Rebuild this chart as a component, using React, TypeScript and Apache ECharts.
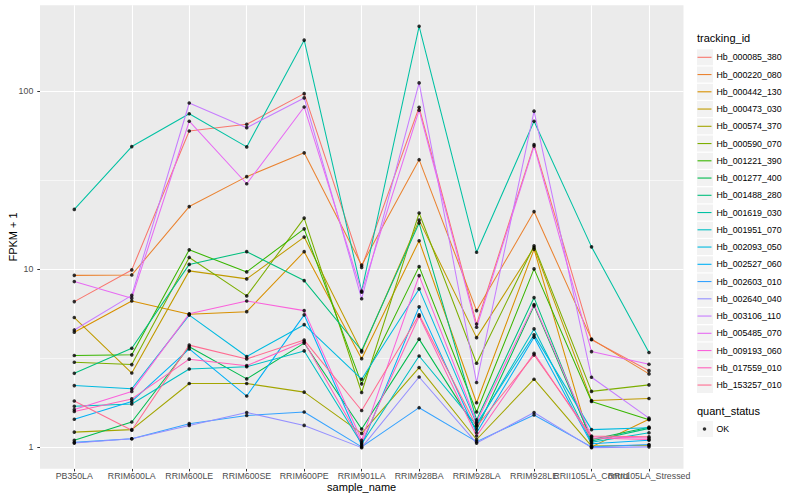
import React, { useEffect, useRef } from "react";
import * as echarts from "echarts";

// ---------- data ----------
const categories = [
  "PB350LA",
  "RRIM600LA",
  "RRIM600LE",
  "RRIM600SE",
  "RRIM600PE",
  "RRIM901LA",
  "RRIM928BA",
  "RRIM928LA",
  "RRIM928LE",
  "RRII105LA_Control",
  "RRII105LA_Stressed",
];

const yTickValues = [1, 10, 100];
const minorGridValues = [3.1623, 31.623];

const hb000085_380 = [6.55, 9.87, 59.6, 65.0, 96.6, 10.2, 81.0, 4.9, 50.0, 4.0, 2.68];
const hb000220_080 = [9.2, 9.25, 22.4, 33.0, 44.9, 10.5, 41.1, 5.83, 21.0, 4.03, 2.57];
const hb000442_130 = [4.41, 6.6, 5.56, 5.75, 12.5, 3.13, 14.4, 1.77, 12.9, 1.0, 1.43];
const hb000473_030 = [5.33, 2.6, 9.75, 8.79, 15.1, 3.42, 18.8, 4.11, 13.2, 1.82, 1.87];
const hb000574_370 = [1.21, 1.25, 2.27, 2.27, 2.03, 1.19, 2.79, 1.1, 2.4, 1.01, 1.02];
const hb000590_070 = [2.99, 2.9, 11.6, 7.05, 19.3, 2.02, 20.6, 2.95, 13.5, 2.05, 2.23];
const hb001221_390 = [3.26, 3.29, 12.8, 9.62, 16.8, 2.26, 10.3, 1.57, 10.0, 1.8, 1.42];
const hb001277_400 = [1.09, 1.38, 3.65, 2.41, 3.83, 1.26, 4.03, 1.25, 6.2, 1.1, 1.29];
const hb001488_280 = [2.59, 3.58, 10.6, 12.5, 8.6, 3.48, 18.1, 1.42, 6.9, 1.08, 1.27];
const hb001619_030 = [21.6, 48.7, 74.5, 48.5, 193, 7.5, 231, 12.4, 67.6, 13.3, 3.39];
const hb001951_070 = [1.69, 1.74, 2.74, 2.82, 3.46, 1.04, 3.24, 1.32, 4.6, 1.06, 1.2];
const hb002093_050 = [2.21, 2.12, 5.5, 3.22, 4.86, 2.4, 7.72, 1.35, 4.26, 1.25, 1.28];
const hb002527_060 = [1.43, 1.8, 3.55, 1.93, 5.52, 1.02, 6.12, 1.2, 4.13, 1.04, 1.09];
const hb002603_010 = [1.06, 1.11, 1.35, 1.5, 1.57, 1.0, 1.66, 1.07, 1.51, 1.0, 1.03];
const hb002640_040 = [1.05, 1.11, 1.32, 1.56, 1.32, 0.99, 2.47, 1.05, 1.56, 0.99, 1.0];
const hb003106_110 = [4.54, 7.1, 85.6, 62.2, 91.4, 6.8, 111, 2.3, 77.0, 2.46, 1.45];
const hb005485_070 = [8.49, 6.85, 67.6, 30.1, 81.3, 7.4, 78.0, 4.7, 49.0, 3.43, 2.91];
const hb009193_060 = [1.62, 2.05, 5.59, 6.6, 5.83, 1.09, 9.17, 1.38, 6.3, 1.14, 1.12];
const hb017559_010 = [1.58, 1.86, 3.11, 2.86, 3.9, 1.06, 5.42, 1.15, 3.36, 1.12, 1.1];
const hb153257_010 = [1.81, 1.24, 3.73, 3.12, 3.98, 1.6, 5.52, 1.3, 3.28, 1.15, 1.14];

const seriesNames = [
  "Hb_000085_380",
  "Hb_000220_080",
  "Hb_000442_130",
  "Hb_000473_030",
  "Hb_000574_370",
  "Hb_000590_070",
  "Hb_001221_390",
  "Hb_001277_400",
  "Hb_001488_280",
  "Hb_001619_030",
  "Hb_001951_070",
  "Hb_002093_050",
  "Hb_002527_060",
  "Hb_002603_010",
  "Hb_002640_040",
  "Hb_003106_110",
  "Hb_005485_070",
  "Hb_009193_060",
  "Hb_017559_010",
  "Hb_153257_010",
];

const seriesValues = [
  hb000085_380,
  hb000220_080,
  hb000442_130,
  hb000473_030,
  hb000574_370,
  hb000590_070,
  hb001221_390,
  hb001277_400,
  hb001488_280,
  hb001619_030,
  hb001951_070,
  hb002093_050,
  hb002527_060,
  hb002603_010,
  hb002640_040,
  hb003106_110,
  hb005485_070,
  hb009193_060,
  hb017559_010,
  hb153257_010,
];

const seriesColors = [
  "#F8766D",
  "#EA8331",
  "#D89000",
  "#C09B00",
  "#A3A500",
  "#7CAE00",
  "#39B600",
  "#00BB4E",
  "#00BF7D",
  "#00C1A3",
  "#00BFC4",
  "#00BAE0",
  "#00B0F6",
  "#35A2FF",
  "#9590FF",
  "#C77CFF",
  "#E76BF3",
  "#FA62DB",
  "#FF62BC",
  "#FF6C91",
];

const statusName = "OK";

// ---------- styling ----------
const FONT = '"Liberation Sans", Arial, Helvetica, sans-serif';
const PANEL = { left: 40, right: 116.5, top: 5.2, bottom: 31.3 };
const DATA_GRID = { left: 45.57, right: 122.27, top: 5.2, bottom: 31.3 };
const LINE_ICON = "path://M0,0M14,16M0,7.45L14,7.45L14,8.55L0,8.55Z";
const DOT_ICON = "path://M0,0M14,16M5.2,8a1.8,1.8 0 1,0 3.6,0a1.8,1.8 0 1,0 -3.6,0Z";

export default function App() {
  const ref = useRef<HTMLDivElement>(null);

  useEffect(() => {
    if (!ref.current) return;
    const chart = echarts.init(ref.current, null, { renderer: "svg" });

    const logs = seriesValues.flat().map((v) => Math.log10(v));
    const lo = Math.min(...logs);
    const hi = Math.max(...logs);
    const span = hi - lo;
    const yMin = Math.pow(10, lo - 0.05 * span);
    const yMax = Math.pow(10, hi + 0.05 * span);

    const lineSeries = seriesNames.map((name, i) => ({
      type: "line",
      name,
      data: seriesValues[i],
      xAxisIndex: 1,
      yAxisIndex: 1,
      symbol: "none",
      showSymbol: false,
      lineStyle: { color: seriesColors[i], width: 1.05 },
      itemStyle: { color: seriesColors[i] },
      z: 10,
      silent: true,
      emphasis: { disabled: true },
    }));

    const pointData: [string, number][] = [];
    seriesValues.forEach((vals) => {
      vals.forEach((v, j) => pointData.push([categories[j], v]));
    });

    const option: any = {
      animation: false,
      textStyle: { fontFamily: FONT },
      title: [
        {
          text: "tracking_id",
          left: 697,
          top: 32,
          padding: 0,
          textStyle: { fontSize: 11, fontWeight: "normal", color: "#000", fontFamily: FONT },
        },
        {
          text: "quant_status",
          left: 697,
          top: 405,
          padding: 0,
          textStyle: { fontSize: 11, fontWeight: "normal", color: "#000", fontFamily: FONT },
        },
      ],
      grid: [
        {
          ...PANEL,
          show: true,
          backgroundColor: "#EBEBEB",
          borderWidth: 0,
          containLabel: false,
          outerBoundsMode: "none",
        },
        { ...DATA_GRID, show: false, containLabel: false, outerBoundsMode: "none" },
      ],
      xAxis: [
        { type: "value", gridIndex: 0, min: 0, max: 1, show: false },
        {
          type: "category",
          gridIndex: 1,
          data: categories,
          boundaryGap: true,
          axisLine: { show: false },
          axisTick: { show: true, alignWithLabel: true, length: 2.7, lineStyle: { color: "#333333", width: 1 } },
          axisLabel: { interval: 0, fontSize: 8.8, color: "#4D4D4D", margin: 3, fontFamily: FONT },
          splitLine: { show: false },
          name: "sample_name",
          nameLocation: "middle",
          nameGap: 13,
          nameMoveOverlap: false,
          nameTextStyle: { fontSize: 11, color: "#000", fontFamily: FONT },
        },
      ],
      yAxis: [
        {
          type: "log",
          logBase: 10,
          gridIndex: 0,
          min: yMin,
          max: yMax,
          axisLine: { show: false },
          axisTick: {
            show: true,
            length: 2.7,
            customValues: yTickValues,
            lineStyle: { color: "#333333", width: 1 },
          },
          axisLabel: {
            customValues: yTickValues,
            fontSize: 8.8,
            color: "#4D4D4D",
            margin: 6.7,
            fontFamily: FONT,
            showMinLabel: true,
            showMaxLabel: true,
          },
          splitLine: { show: true, lineStyle: { color: "#FFFFFF", width: 1.1 } },
          name: "FPKM + 1",
          nameLocation: "middle",
          nameGap: 22,
          nameMoveOverlap: false,
          nameRotate: 90,
          nameTextStyle: { fontSize: 11, color: "#000", fontFamily: FONT },
        },
        {
          type: "log",
          logBase: 10,
          gridIndex: 1,
          min: yMin,
          max: yMax,
          show: false,
          splitLine: { show: false },
        },
      ],
      legend: [
        {
          orient: "vertical",
          left: 697,
          top: 49.3,
          itemWidth: 16,
          itemHeight: 16,
          itemGap: 1.25,
          padding: 0,
          icon: "rect",
          selectedMode: false,
          z: 4,
          formatter: () => "",
          textStyle: { fontSize: 8.8, fontFamily: FONT },
          data: seriesNames.map((n) => ({ name: n, itemStyle: { color: "#F2F2F2", borderWidth: 0 } })),
        },
        {
          orient: "vertical",
          left: 697.5,
          top: 49.3,
          itemWidth: 14,
          itemHeight: 16,
          itemGap: 1.25,
          padding: 0,
          selectedMode: false,
          z: 5,
          textStyle: { fontSize: 8.8, color: "#000", fontFamily: FONT },
          data: seriesNames.map((n, i) => ({
            name: n,
            icon: LINE_ICON,
            itemStyle: { color: seriesColors[i], borderWidth: 0 },
          })),
        },
        {
          orient: "vertical",
          left: 697,
          top: 421,
          itemWidth: 16,
          itemHeight: 16,
          padding: 0,
          icon: "rect",
          selectedMode: false,
          z: 4,
          formatter: () => "",
          textStyle: { fontSize: 8.8, fontFamily: FONT },
          data: [{ name: statusName, itemStyle: { color: "#F2F2F2", borderWidth: 0 } }],
        },
        {
          orient: "vertical",
          left: 697.5,
          top: 421,
          itemWidth: 14,
          itemHeight: 16,
          padding: 0,
          selectedMode: false,
          z: 5,
          textStyle: { fontSize: 8.8, color: "#000", fontFamily: FONT },
          data: [{ name: statusName, icon: DOT_ICON, itemStyle: { color: "#000000", borderWidth: 0 } }],
        },
      ],
      series: [
        {
          type: "line",
          name: "__minor_grid",
          xAxisIndex: 0,
          yAxisIndex: 0,
          data: [],
          z: 1,
          silent: true,
          markLine: {
            silent: true,
            z: 1,
            animation: false,
            symbol: ["none", "none"],
            label: { show: false },
            lineStyle: { color: "#FFFFFF", width: 0.55, type: "solid" },
            emphasis: { disabled: true },
            data: minorGridValues.map((v) => ({ yAxis: v })),
          },
        },
        {
          type: "line",
          name: "__major_x_grid",
          xAxisIndex: 1,
          yAxisIndex: 1,
          data: [],
          z: 1,
          silent: true,
          markLine: {
            silent: true,
            z: 1,
            animation: false,
            symbol: ["none", "none"],
            label: { show: false },
            lineStyle: { color: "#FFFFFF", width: 1.1, type: "solid" },
            emphasis: { disabled: true },
            data: categories.map((c) => ({ xAxis: c })),
          },
        },
        ...lineSeries,
        {
          type: "scatter",
          name: statusName,
          xAxisIndex: 1,
          yAxisIndex: 1,
          data: pointData,
          symbol: "circle",
          symbolSize: 3.6,
          itemStyle: { color: "#000000" },
          z: 12,
          silent: true,
          emphasis: { disabled: true },
        },
      ],
    };

    chart.setOption(option);
    return () => {
      chart.dispose();
    };
  }, []);

  return (
    <div
      ref={ref}
      style={{ position: "fixed", left: 0, top: 0, width: 800, height: 500, background: "#FFFFFF" }}
    />
  );
}
